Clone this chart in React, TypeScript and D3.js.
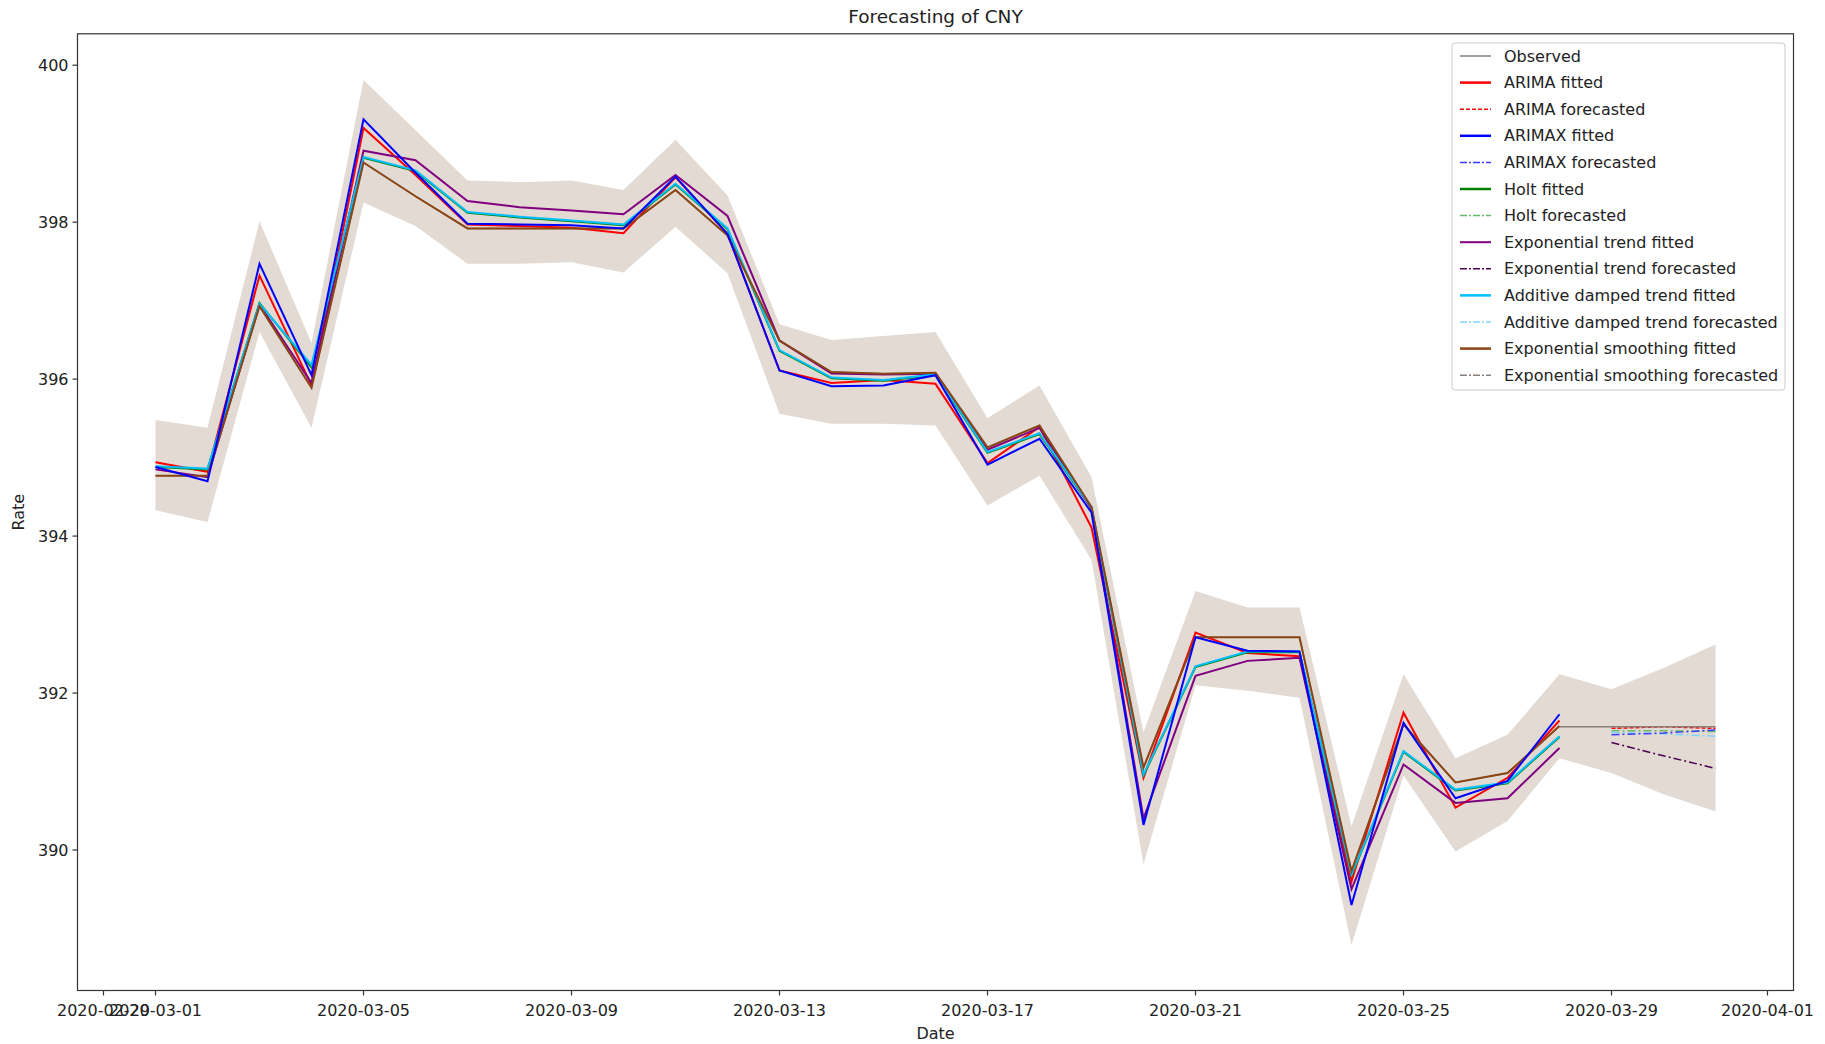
import React from "react";
import * as d3 from "d3";

const W = 1825;
const H = 1044;

const fittedDates = [
  "2020-03-01","2020-03-02","2020-03-03","2020-03-04","2020-03-05","2020-03-06","2020-03-07",
  "2020-03-08","2020-03-09","2020-03-10","2020-03-11","2020-03-12","2020-03-13","2020-03-14",
  "2020-03-15","2020-03-16","2020-03-17","2020-03-18","2020-03-19","2020-03-20","2020-03-21",
  "2020-03-22","2020-03-23","2020-03-24","2020-03-25","2020-03-26","2020-03-27","2020-03-28",
];
const forecastDates = ["2020-03-29", "2020-03-30", "2020-03-31"];
const bandDates = [...fittedDates, ...forecastDates];

const observed = [394.77,394.77,396.93,395.89,398.76,398.33,397.92,397.92,397.92,397.92,398.41,397.83,396.49,396.09,396.07,396.08,395.13,395.41,394.37,391.05,392.71,392.71,392.71,389.73,391.6,390.86,390.98,391.58];
const arimaFitted = [394.94,394.82,397.32,395.92,399.2,398.6,397.97,397.95,397.93,397.86,398.57,397.85,396.11,395.95,395.99,395.94,394.93,395.39,394.11,390.92,392.77,392.51,392.47,389.6,391.75,390.54,390.92,391.65];
const arimaxFitted = [394.88,394.7,397.47,396.05,399.31,398.63,397.98,397.97,397.96,397.92,398.58,397.85,396.11,395.91,395.92,396.05,394.91,395.24,394.3,390.32,392.71,392.54,392.53,389.3,391.62,390.66,390.88,391.73];
const holtFitted = [394.88,394.85,396.97,396.15,398.82,398.65,398.12,398.06,398.01,397.96,398.48,397.91,396.36,396.01,395.98,396.05,395.06,395.3,394.36,390.95,392.33,392.52,392.52,389.68,391.25,390.76,390.85,391.44];
const expTrendFitted = [394.85,394.75,396.95,395.95,398.91,398.79,398.27,398.19,398.15,398.1,398.6,398.08,396.49,396.07,396.06,396.07,395.1,395.38,394.35,390.4,392.22,392.41,392.45,389.5,391.09,390.6,390.66,391.3];
const dampedFitted = [394.89,394.86,396.96,396.18,398.83,398.66,398.13,398.07,398.02,397.97,398.49,397.92,396.37,396.02,395.99,396.06,395.07,395.31,394.37,390.96,392.34,392.53,392.53,389.69,391.26,390.77,390.86,391.45];
const sesFitted = [394.77,394.77,396.93,395.89,398.76,398.33,397.92,397.92,397.92,397.92,398.41,397.83,396.49,396.09,396.07,396.08,395.13,395.41,394.37,391.05,392.71,392.71,392.71,389.73,391.6,390.86,390.98,391.58];

const arimaForecast = [391.55, 391.57, 391.55];
const arimaxForecast = [391.47, 391.49, 391.53];
const holtForecast = [391.52, 391.52, 391.51];
const expTrendForecast = [391.37, 391.2, 391.04];
const dampedForecast = [391.5, 391.48, 391.45];
const sesForecastDates = ["2020-03-28", "2020-03-29", "2020-03-30", "2020-03-31"];
const sesForecast = [391.57, 391.57, 391.57, 391.57];

const bandUpper = [395.48,395.38,398.01,396.46,399.81,399.17,398.53,398.51,398.53,398.41,399.05,398.34,396.7,396.5,396.55,396.6,395.5,395.92,394.75,391.5,393.3,393.09,393.09,390.3,392.24,391.17,391.47,392.24,392.05,392.32,392.62];
const bandLower = [394.33,394.18,396.6,395.38,398.25,397.95,397.47,397.47,397.49,397.36,397.94,397.35,395.56,395.43,395.43,395.41,394.39,394.77,393.7,389.82,392.1,392.03,391.94,388.79,390.95,389.98,390.37,391.17,390.98,390.71,390.49];

const xTickDates = ["2020-02-29","2020-03-01","2020-03-05","2020-03-09","2020-03-13","2020-03-17","2020-03-21","2020-03-25","2020-03-29","2020-04-01"];
const yTickValues = [390, 392, 394, 396, 398, 400];

const legendLabels = [
  "Observed","ARIMA fitted","ARIMA forecasted","ARIMAX fitted","ARIMAX forecasted","Holt fitted","Holt forecasted",
  "Exponential trend fitted","Exponential trend forecasted","Additive damped trend fitted","Additive damped trend forecasted",
  "Exponential smoothing fitted","Exponential smoothing forecasted",
];

const parse = (s: string) => new Date(s + "T00:00:00Z");

export default function App() {
  const left = 77.5, right = 1793.5, top = 33.8, bottom = 990.5;
  const x = d3.scaleUtc().domain([new Date("2020-02-28T12:00:00Z"), new Date("2020-04-01T12:00:00Z")]).range([left, right]);
  const y = d3.scaleLinear().domain([388.21, 400.4]).range([bottom, top]);

  const lineGen = (dates: string[], vals: number[]) =>
    d3.line<number>().x((_, i) => x(parse(dates[i]))).y((v) => y(v))(vals) || "";

  const area = d3
    .area<number>()
    .x((_, i) => x(parse(bandDates[i])))
    .y0((_, i) => y(bandLower[i]))
    .y1((v) => y(v))(bandUpper) || "";

  const font = "'DejaVu Sans', sans-serif";
  const dashDot = "8,3,2,3";

  const series = [
    { label: "Observed", dates: fittedDates, vals: observed, color: "#7f7f7f", w: 1.4, dash: "" },
    { label: "ARIMA fitted", dates: fittedDates, vals: arimaFitted, color: "#ff0000", w: 2, dash: "" },
    { label: "ARIMA forecasted", dates: forecastDates, vals: arimaForecast, color: "#ff0000", w: 1.5, dash: "4,2" },
    { label: "Holt fitted", dates: fittedDates, vals: holtFitted, color: "#008000", w: 2, dash: "" },
    { label: "Holt forecasted", dates: forecastDates, vals: holtForecast, color: "#66bb66", w: 1.5, dash: dashDot },
    { label: "Exponential trend fitted", dates: fittedDates, vals: expTrendFitted, color: "#800080", w: 2, dash: "" },
    { label: "Exponential trend forecasted", dates: forecastDates, vals: expTrendForecast, color: "#4b0050", w: 1.5, dash: dashDot },
    { label: "Additive damped trend fitted", dates: fittedDates, vals: dampedFitted, color: "#00bfff", w: 2, dash: "" },
    { label: "Additive damped trend forecasted", dates: forecastDates, vals: dampedForecast, color: "#7fd4ff", w: 1.5, dash: dashDot },
    { label: "Exponential smoothing fitted", dates: fittedDates, vals: sesFitted, color: "#8b4513", w: 2, dash: "" },
    { label: "Exponential smoothing forecasted", dates: sesForecastDates, vals: sesForecast, color: "#8a7f78", w: 1.5, dash: "" },
    { label: "ARIMAX fitted", dates: fittedDates, vals: arimaxFitted, color: "#0000ff", w: 2, dash: "" },
    { label: "ARIMAX forecasted", dates: forecastDates, vals: arimaxForecast, color: "#3a3aff", w: 1.5, dash: dashDot },
  ];

  const legendStyle: Record<string, { color: string; w: number; dash: string }> = {
    "Observed": { color: "#7f7f7f", w: 1.5, dash: "" },
    "ARIMA fitted": { color: "#ff0000", w: 2.5, dash: "" },
    "ARIMA forecasted": { color: "#ff0000", w: 1.5, dash: "4,2" },
    "ARIMAX fitted": { color: "#0000ff", w: 2.5, dash: "" },
    "ARIMAX forecasted": { color: "#3a3aff", w: 1.5, dash: "7,2,2,2" },
    "Holt fitted": { color: "#008000", w: 2.5, dash: "" },
    "Holt forecasted": { color: "#66bb66", w: 1.5, dash: "7,2,2,2" },
    "Exponential trend fitted": { color: "#800080", w: 2, dash: "" },
    "Exponential trend forecasted": { color: "#4b0050", w: 1.5, dash: "7,2,2,2" },
    "Additive damped trend fitted": { color: "#00bfff", w: 2.5, dash: "" },
    "Additive damped trend forecasted": { color: "#7fd4ff", w: 1.5, dash: "7,2,2,2" },
    "Exponential smoothing fitted": { color: "#8b4513", w: 2.5, dash: "" },
    "Exponential smoothing forecasted": { color: "#8a7f78", w: 1.5, dash: "7,2,2,2" },
  };

  const legX = 1452, legY = 43, legW = 333, legH = 347, rowH = 26.6, firstRow = 56;

  return (
    <svg width={W} height={H} style={{ position: "absolute", left: 0, top: 0, background: "#fff" }} fontFamily={font}>
      <rect x={0} y={0} width={W} height={H} fill="#fff" />
      <text x={(left + right) / 2} y={23} textAnchor="middle" fontSize={18.5} fill="#222">Forecasting of CNY</text>

      <path d={area} fill="#e2dad3" stroke="none" />

      {series.map((s) => (
        <path key={s.label} d={lineGen(s.dates, s.vals)} fill="none" stroke={s.color} strokeWidth={s.w}
          strokeDasharray={s.dash || undefined} strokeLinejoin="miter" />
      ))}

      <rect x={left} y={top} width={right - left} height={bottom - top} fill="none" stroke="#333" strokeWidth={1.2} />

      {yTickValues.map((v) => (
        <g key={v}>
          <line x1={left - 5} x2={left} y1={y(v)} y2={y(v)} stroke="#333" strokeWidth={1.2} />
          <text x={left - 9} y={y(v)} dy="0.35em" textAnchor="end" fontSize={16} fill="#222">{v}</text>
        </g>
      ))}

      {xTickDates.map((d) => (
        <g key={d}>
          <line x1={x(parse(d))} x2={x(parse(d))} y1={bottom} y2={bottom + 5} stroke="#333" strokeWidth={1.2} />
          <text x={x(parse(d))} y={bottom + 25} textAnchor="middle" fontSize={16} fill="#222">{d}</text>
        </g>
      ))}

      <text x={(left + right) / 2} y={1039} textAnchor="middle" fontSize={16} fill="#222">Date</text>
      <text transform={`translate(24, ${(top + bottom) / 2}) rotate(-90)`} textAnchor="middle" fontSize={16} fill="#222">Rate</text>

      <rect x={legX} y={legY} width={legW} height={legH} rx={3} fill="#fff" fillOpacity={0.85} stroke="#cccccc" strokeWidth={1} />
      {legendLabels.map((lab, i) => {
        const st = legendStyle[lab];
        const cy = firstRow + i * rowH;
        return (
          <g key={lab}>
            <line x1={1460} x2={1491} y1={cy} y2={cy} stroke={st.color} strokeWidth={st.w} strokeDasharray={st.dash || undefined} />
            <text x={1504} y={cy} dy="0.35em" fontSize={16} fill="#222">{lab}</text>
          </g>
        );
      })}
    </svg>
  );
}
